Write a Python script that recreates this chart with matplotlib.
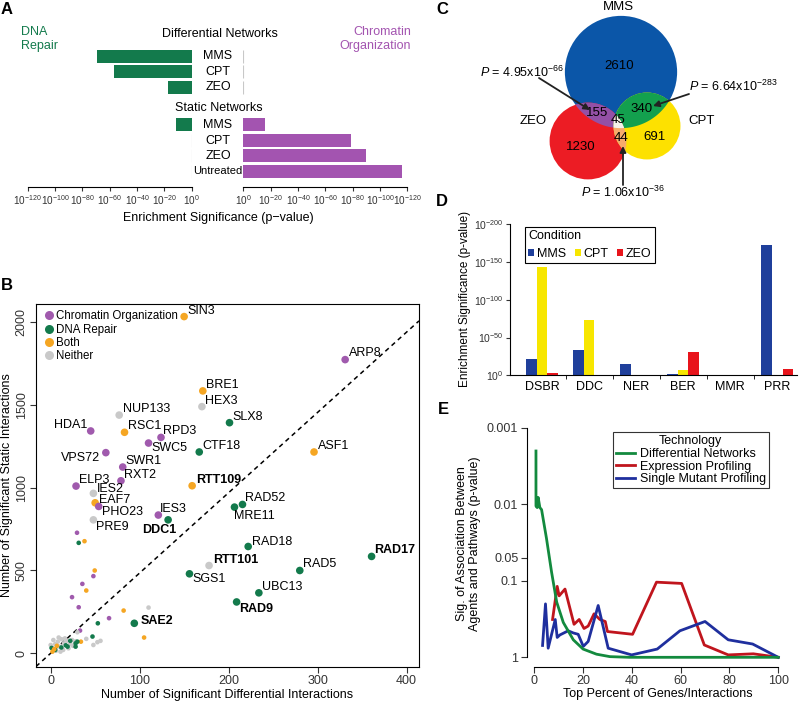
import numpy as np
import matplotlib.pyplot as plt
from matplotlib.patches import Circle, Polygon
from matplotlib.lines import Line2D

plt.rcParams['font.family'] = ['Liberation Sans', 'DejaVu Sans']
plt.rcParams['mathtext.fontset'] = 'custom'
plt.rcParams['mathtext.rm'] = 'Liberation Sans'
plt.rcParams['mathtext.it'] = 'Liberation Sans:italic'
plt.rcParams['mathtext.bf'] = 'Liberation Sans:bold'

# ---------------- data ----------------
# A: enrichment, -log10(p)
diff_conditions = ['MMS', 'CPT', 'ZEO']
diff_dna_repair = [69, 57, 17.5]
diff_chromatin = [0, 0, 0]
static_conditions = ['MMS', 'CPT', 'ZEO', 'Untreated']
static_dna_repair = [11.6, 0, 0, 0]
static_chromatin = [16, 79, 90, 116]

# B: labelled genes
gene_names = ['SIN3', 'ARP8', 'BRE1', 'HEX3', 'NUP133', 'SLX8', 'HDA1', 'RSC1',
              'RPD3', 'SWC5', 'CTF18', 'ASF1', 'VPS72', 'SWR1', 'RXT2', 'ELP3',
              'RTT109', 'IES2', 'EAF7', 'PHO23', 'RAD52', 'MRE11', 'IES3', 'DDC1',
              'PRE9', 'RAD18', 'RAD17', 'RTT101', 'RAD5', 'SGS1', 'UBC13', 'RAD9', 'SAE2']
gene_diff = [150, 331, 171, 170, 77, 201, 45, 83, 124, 110, 167, 296, 62, 81, 79, 28.5,
             159, 48, 50, 54, 215.6, 206.6, 121, 132, 48, 222, 360.7, 178, 280, 156, 234, 209, 94]
gene_static = [2034, 1774, 1585, 1490, 1439, 1393, 1343, 1335, 1304, 1270, 1216, 1216, 1212,
               1125, 1042, 1010, 1012, 966, 909, 887, 899, 883, 835, 806, 806, 645, 585, 530,
               500, 480, 365, 310, 181]
gene_class = ['Both', 'Chromatin Organization', 'Both', 'Neither', 'Neither', 'DNA Repair',
              'Chromatin Organization', 'Both', 'Chromatin Organization', 'Chromatin Organization',
              'DNA Repair', 'Both', 'Chromatin Organization', 'Chromatin Organization',
              'Chromatin Organization', 'Chromatin Organization', 'Both', 'Neither', 'Both',
              'Chromatin Organization', 'DNA Repair', 'DNA Repair', 'Chromatin Organization',
              'DNA Repair', 'Neither', 'DNA Repair', 'DNA Repair', 'Neither', 'DNA Repair',
              'DNA Repair', 'DNA Repair', 'DNA Repair', 'DNA Repair']
bold_genes = ['RTT109', 'DDC1', 'RTT101', 'RAD17', 'RAD9', 'SAE2']

# B: other genes (unlabelled)
other_diff = [29.6, 31.5, 38, 49.5, 48, 35.6, 40, 24, 31.5, 82, 110, 65.6, 53, 105, 47,
              33, 30, 40, 52.5, 56, 48, 34,
              2, 5, 8, 10, 12, 15, 18, 20, 22, 6, 3, 14, 25, 9, 0, 16, 24, 28, 11,
              1, 5, 12, 17, 19, 28, 30, 28, 22, 2, 7, 4]
other_static = [728, 667, 677, 500, 466, 419, 379, 339, 278, 258, 276, 212, 181, 95, 101,
                137, 127, 87, 67, 75, 50, 70,
                30, 55, 70, 40, 85, 60, 75, 30, 55, 15, 80, 20, 45, 95, 50, 90, 80, 72, 10,
                32, 20, 35, 48, 40, 60, 70, 40, 75, 10, 45, 25]
other_class = (['Chromatin Organization', 'DNA Repair', 'Both', 'Both', 'Chromatin Organization',
                'Chromatin Organization', 'Both', 'Chromatin Organization', 'Chromatin Organization',
                'Both', 'Neither', 'Chromatin Organization', 'DNA Repair', 'Both', 'DNA Repair',
                'Chromatin Organization', 'Neither', 'Neither', 'Neither', 'Neither', 'Neither', 'Both']
               + ['Neither'] * 19 + ['DNA Repair'] * 9 + ['Both'] * 3)
diagonal_slope = 4.85

# C: Venn region counts
venn_sets = ['MMS', 'ZEO', 'CPT']
only_mms, only_zeo, only_cpt = 2610, 1230, 691
mms_zeo, mms_cpt, zeo_cpt, all_three = 155, 340, 44, 45

# D: pathway enrichment, -log10(p)
pathways = ['DSBR', 'DDC', 'NER', 'BER', 'MMR', 'PRR']
pathway_mms = [21.6, 33, 15.5, 1.8, 0, 172.6]
pathway_cpt = [143, 73, 0, 7, 0, 0]
pathway_zeo = [2.6, 0, 0, 30.5, 0, 8]

# E: association p-values vs top percent
diff_net_x = [0.7, 0.7, 1.2, 1.6, 2.3, 3, 5, 7.1, 9.2, 11.9, 16, 20, 25.5, 31, 39, 50, 60, 70, 80, 90, 100]
diff_net_p = [0.002, 0.0105, 0.011, 0.0081, 0.011, 0.0117, 0.0277, 0.077, 0.19, 0.35, 0.59,
              0.78, 0.91, 0.98, 1.0, 1.0, 1.0, 1.0, 1.0, 1.0, 1.0]
expr_x = [7.5, 9.4, 10.2, 12.6, 16.3, 18.4, 20.4, 22.1, 24.5, 26.9, 29.1, 30, 40.3, 50.1,
          60.4, 69.7, 79.5, 89.8, 100]
expr_p = [0.32, 0.118, 0.157, 0.128, 0.37, 0.32, 0.42, 0.39, 0.27, 0.32, 0.34, 0.46, 0.50,
          0.104, 0.108, 0.69, 0.93, 0.90, 1.0]
single_x = [3.4, 4.6, 5.7, 8.6, 9.4, 10.5, 13.9, 16, 18, 20.1, 22.1, 26.2, 30.3, 39.9, 50.4,
            59.7, 70, 79.5, 89.5, 100]
single_p = [0.70, 0.20, 0.76, 0.32, 0.55, 0.51, 0.45, 0.48, 0.50, 0.72, 0.62, 0.21, 0.76,
            0.93, 0.78, 0.45, 0.34, 0.59, 0.67, 1.0]

# ---------------- style ----------------
GREEN = '#137a4c'
PURPLE = '#a354b0'
ORANGE = '#f5a623'
GREY = '#c9c9c9'
class_colors = {'Chromatin Organization': '#a05aad', 'DNA Repair': GREEN,
                'Both': ORANGE, 'Neither': GREY}
W, H = 800, 703


def fbox(x0, y0, x1, y1):
    return [x0 / W, 1 - y1 / H, (x1 - x0) / W, (y1 - y0) / H]


def ftext(x, y, s, **kw):
    fig.text(x / W, 1 - y / H, s, **kw)


fig = plt.figure(figsize=(8, 7.03), dpi=100)

# ---------------- A ----------------
rows = [0, 1, 2, 4.42, 5.42, 6.42, 7.42]
repair_vals = diff_dna_repair + static_dna_repair
chrom_vals = diff_chromatin + static_chromatin
axL = fig.add_axes(fbox(27.7, 47, 191.7, 187))
axR = fig.add_axes(fbox(243.3, 47, 407.3, 187))
ticks = list(range(0, 121, 20))
for ax, vals, col in [(axL, repair_vals, GREEN), (axR, chrom_vals, PURPLE)]:
    ax.barh(rows, vals, height=0.83, color=col)
    for y, v in zip(rows, vals):
        if v == 0:
            ax.vlines(0, y - 0.42, y + 0.42, color='#c8c8c8', lw=0.8)
    ax.set_ylim(8.43, -0.6)
    ax.set_yticks([])
    for s in ['top', 'left', 'right']:
        ax.spines[s].set_visible(False)
    ax.set_xticks(ticks)
    ax.set_xticklabels(['$10^{%d}$' % (-t) for t in ticks], fontsize=7.2)
    ax.tick_params(axis='x', length=3, pad=1.5, colors='#333333')
    ax.patch.set_visible(False)
axL.set_xlim(120, 0)
axR.set_xlim(0, 120)

for y, name in zip([56.3, 72, 87.5], diff_conditions):
    ftext(218, y, name, ha='center', va='center', fontsize=9)
for y, name in zip([125, 140.5, 156, 171.5], static_conditions):
    ftext(218, y, name, ha='center', va='center', fontsize=9 if name != 'Untreated' else 8)
ftext(220, 34, 'Differential Networks', ha='center', va='center', fontsize=9)
ftext(219, 108, 'Static Networks', ha='center', va='center', fontsize=9)
ftext(21, 39, 'DNA\nRepair', ha='left', va='center', fontsize=9, color=GREEN, linespacing=1.15)
ftext(411, 39, 'Chromatin\nOrganization', ha='right', va='center', fontsize=9,
      color=PURPLE, multialignment='right', linespacing=1.15)
ftext(218, 218, 'Enrichment Significance (p\u2212value)', ha='center', va='center', fontsize=9)

# ---------------- B ----------------
axB = fig.add_axes(fbox(36, 304, 419, 667))
axB.axline((0, 0), slope=diagonal_slope, ls=(0, (3, 2.5)), color='k', lw=1.1, zorder=1)
oc = [class_colors[c] for c in other_class]
axB.scatter(other_diff, other_static, s=11, c=oc, lw=0, zorder=2)
gc = [class_colors[c] for c in gene_class]
axB.scatter(gene_diff, gene_static, s=30, c=gc, lw=0, zorder=3)

label_offsets = {
    'SIN3': (3, 6, 'left'), 'ARP8': (4, 7, 'left'), 'BRE1': (3, 6, 'left'),
    'HEX3': (3, 6, 'left'), 'NUP133': (4, 6, 'left'), 'SLX8': (3, 6, 'left'),
    'HDA1': (-3, 6, 'right'), 'RSC1': (3, 6, 'left'), 'RPD3': (2, 6, 'left'),
    'SWC5': (3, -5, 'left'), 'CTF18': (3, 6, 'left'), 'ASF1': (4, 6, 'left'),
    'VPS72': (-6, -5, 'right'), 'SWR1': (3, 6, 'left'), 'RXT2': (3, 6, 'left'),
    'ELP3': (3, 6, 'left'), 'RTT109': (4, 6, 'left'), 'IES2': (3, 4, 'left'),
    'EAF7': (4, 3, 'left'), 'PHO23': (3, -6, 'left'), 'RAD52': (3, 6, 'left'),
    'MRE11': (0, -9, 'left'), 'IES3': (2, 6, 'left'), 'DDC1': (-9, -10, 'center'),
    'PRE9': (3, -7, 'left'), 'RAD18': (4, 4, 'left'), 'RAD17': (3, 6, 'left'),
    'RTT101': (4, 6, 'left'), 'RAD5': (3, 6, 'left'), 'SGS1': (3, -5, 'left'),
    'UBC13': (3, 6, 'left'), 'RAD9': (3, -7, 'left'), 'SAE2': (6, 2, 'left'),
}
for name, x, y in zip(gene_names, gene_diff, gene_static):
    dx, dy, ha = label_offsets[name]
    axB.annotate(name, (x, y), xytext=(dx, dy), textcoords='offset pixels',
                 ha=ha, va='center', fontsize=9,
                 fontweight='bold' if name in bold_genes else 'normal', zorder=4)

axB.set_xlim(-16.5, 414)
axB.set_ylim(-83, 2110)
axB.set_xticks([0, 100, 200, 300, 400])
axB.set_yticks([0, 500, 1000, 1500, 2000])
axB.tick_params(labelsize=9, length=4, pad=2, colors='#333333')
for lab in axB.get_yticklabels():
    lab.set_rotation(90)
    lab.set_va('center')
axB.set_xlabel('Number of Significant Differential Interactions', fontsize=9, labelpad=1)
axB.set_ylabel('Number of Significant Static Interactions', fontsize=9, labelpad=2)
handles = [Line2D([], [], marker='o', ls='none', color=class_colors[k], markersize=6.5, mew=0)
           for k in class_colors]
axB.legend(handles, list(class_colors), loc='upper left', frameon=False, fontsize=8.3,
           handletextpad=0.0, labelspacing=0.12, borderaxespad=0.35, handlelength=1.2,
           borderpad=0.2)

# ---------------- C ----------------
axC = fig.add_axes(fbox(450, 0, 800, 200))
axC.set_xlim(450, 800)
axC.set_ylim(200, 0)
axC.axis('off')
totals = {'MMS': only_mms + mms_zeo + mms_cpt + all_three,
          'ZEO': only_zeo + mms_zeo + zeo_cpt + all_three,
          'CPT': only_cpt + mms_cpt + zeo_cpt + all_three}
centers = {'MMS': (621, 72), 'ZEO': (588, 141), 'CPT': (647, 126)}
radius = {k: np.sqrt(v) for k, v in totals.items()}
set_colors = {'MMS': '#0b56a8', 'ZEO': '#ec1c24', 'CPT': '#fde100'}


def circle_pts(c, r, n=720):
    t = np.linspace(0, 2 * np.pi, n, endpoint=False)
    return np.column_stack([c[0] + r * np.cos(t), c[1] + r * np.sin(t)])


def overlap(names):
    pts = []
    for a in names:
        p = circle_pts(centers[a], radius[a])
        keep = np.ones(len(p), bool)
        for b in names:
            if b != a:
                keep &= np.hypot(p[:, 0] - centers[b][0], p[:, 1] - centers[b][1]) <= radius[b]
        pts.append(p[keep])
    pts = np.vstack(pts)
    m = pts.mean(axis=0)
    return pts[np.argsort(np.arctan2(pts[:, 1] - m[1], pts[:, 0] - m[0]))]


for k in venn_sets:
    axC.add_patch(Circle(centers[k], radius[k], color=set_colors[k], lw=0))
for pair, col in [(('MMS', 'ZEO'), '#9450a6'), (('MMS', 'CPT'), '#13a04e'),
                  (('ZEO', 'CPT'), '#f7ab6c')]:
    axC.add_patch(Polygon(overlap(pair), closed=True, color=col, lw=0))
axC.add_patch(Polygon(overlap(venn_sets), closed=True, color='#f6f2ea', lw=0))

cfs = 9.5
axC.text(618, 6.5, 'MMS', ha='center', va='center', fontsize=cfs)
axC.text(533, 121, 'ZEO', ha='center', va='center', fontsize=cfs)
axC.text(702, 121, 'CPT', ha='center', va='center', fontsize=cfs)
for (x, y), v in zip([(619, 66), (597, 113), (642, 109), (618, 120), (621, 138), (581, 147), (655, 137)],
                     [only_mms, mms_zeo, mms_cpt, all_three, zeo_cpt, only_zeo, only_cpt]):
    axC.text(x, y, str(v), ha='center', va='center', fontsize=cfs)
arrow = dict(arrowstyle='-|>', color='#222222', lw=1.3, mutation_scale=9, shrinkA=0, shrinkB=0)
axC.annotate('', xy=(590, 110), xytext=(539, 78), arrowprops=arrow)
axC.text(480, 72, '$P$ = 4.95x10$^{-66}$', ha='left', va='center', fontsize=9)
axC.annotate('', xy=(653, 106), xytext=(689, 94), arrowprops=arrow)
axC.text(689, 86, '$P$ = 6.64x10$^{-283}$', ha='left', va='center', fontsize=9)
axC.annotate('', xy=(623, 146), xytext=(623, 185), arrowprops=arrow)
axC.text(623, 192, '$P$ = 1.06x10$^{-36}$', ha='center', va='center', fontsize=9)

# ---------------- D ----------------
axD = fig.add_axes(fbox(510, 222, 797, 375.3))
xpos = np.arange(len(pathways))
bw = 0.225
axD.bar(xpos - bw, pathway_mms, bw, color='#1f3f9b', label='MMS')
axD.bar(xpos, pathway_cpt, bw, color='#f7e600', label='CPT')
axD.bar(xpos + bw, pathway_zeo, bw, color='#e8141b', label='ZEO')
axD.set_xlim(-0.68, 5.42)
axD.set_ylim(0, 203)
axD.spines['top'].set_visible(False)
axD.spines['right'].set_visible(False)
axD.spines['left'].set_bounds(0, 200)
axD.set_yticks([0, 50, 100, 150, 200])
axD.set_yticklabels(['$10^{%d}$' % (-v) for v in [0, 50, 100, 150, 200]], fontsize=7.5)
axD.set_xticks(xpos)
axD.set_xticklabels(pathways, fontsize=9)
axD.set_xticks(xpos[:-1] + 0.5, minor=True)
axD.tick_params(axis='x', which='major', length=0, pad=4)
axD.tick_params(axis='x', which='minor', length=3)
axD.tick_params(axis='y', length=3, pad=1.5, colors='#333333')
axD.set_ylabel('Enrichment Significance (p-value)', fontsize=8.5, labelpad=2)
legD = axD.legend(title='Condition', loc='upper left', bbox_to_anchor=(0.03, 1.01), ncol=3,
                  fontsize=9, title_fontsize=9, handlelength=0.5, handleheight=0.5,
                  handletextpad=0.2, columnspacing=0.7, borderpad=0.25, fancybox=False,
                  edgecolor='k', framealpha=1)
legD.get_frame().set_linewidth(0.8)
legD._legend_box.align = 'left'

# ---------------- E ----------------
axE = fig.add_axes(fbox(526.7, 420, 788, 666.7))
axE.plot(diff_net_x, diff_net_p, color='#138a3e', lw=2, label='Differential Networks', zorder=3)
axE.plot(expr_x, expr_p, color='#c0151d', lw=2, label='Expression Profiling')
axE.plot(single_x, single_p, color='#1f2f9e', lw=2, label='Single Mutant Profiling')
axE.set_yscale('log')
axE.set_xlim(-3.1, 104)
axE.set_ylim(1.327, 7.86e-4)
axE.set_yticks([0.001, 0.01, 0.05, 0.1, 1])
axE.set_yticklabels(['0.001', '0.01', '0.05', '0.1', '1'])
axE.minorticks_off()
axE.set_xticks([0, 20, 40, 60, 80, 100])
axE.spines['top'].set_visible(False)
axE.spines['right'].set_visible(False)
axE.spines['left'].set_bounds(1, 0.001)
axE.spines['bottom'].set_bounds(0, 100)
axE.tick_params(labelsize=9, length=4, pad=2, colors='#333333')
axE.set_xlabel('Top Percent of Genes/Interactions', fontsize=9, labelpad=1)
axE.set_ylabel('Sig. of Association Between\nAgents and Pathways (p-value)', fontsize=9, labelpad=4)
legE = axE.legend(title='Technology', loc='upper right', bbox_to_anchor=(775 / W, 1 - 426 / H),
                  bbox_transform=fig.transFigure, fontsize=9, title_fontsize=9,
                  handlelength=1.5, handletextpad=0.4, labelspacing=0.05, borderpad=0.25,
                  fancybox=False, edgecolor='#333333', framealpha=1)
legE.get_frame().set_linewidth(0.8)

# ---------------- panel letters ----------------
for letter, (x, y) in {'A': (7, 10), 'B': (7, 285), 'C': (442, 10), 'D': (442, 202),
                       'E': (443, 410)}.items():
    ftext(x, y, letter, ha='center', va='center', fontsize=12, fontweight='bold')

fig.savefig('out.png', dpi=100)
